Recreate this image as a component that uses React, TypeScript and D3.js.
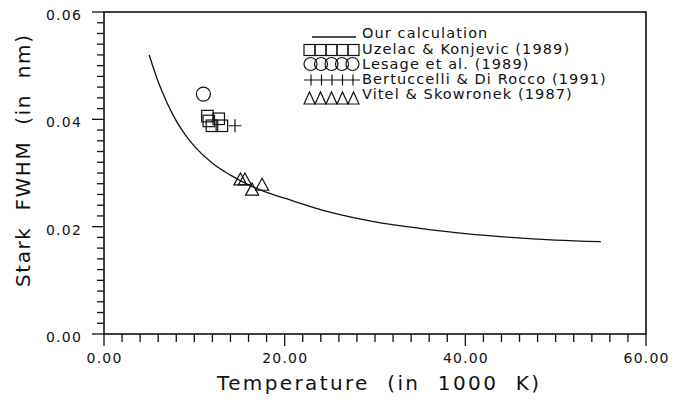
import React from "react";
import * as d3 from "d3";

const calcT = [5, 6, 7, 8, 9, 10, 12, 14, 16, 18, 20, 25, 30, 35, 40, 45, 50, 55];
const calcW = [0.052, 0.047, 0.043, 0.0397, 0.0371, 0.035, 0.0318, 0.0296, 0.0278, 0.0264, 0.0253, 0.0227, 0.0209, 0.0197, 0.0187, 0.018, 0.0175, 0.0172];

const uzelacT = [11.45, 11.6, 11.95, 12.7, 13.05];
const uzelacW = [0.0406, 0.0397, 0.0388, 0.0401, 0.0388];

const lesageT = [11.0];
const lesageW = [0.0447];

const bertuccelliT = [14.5];
const bertuccelliW = [0.0388];

const vitelT = [15.1, 15.6, 16.4, 17.5];
const vitelW = [0.0289, 0.0289, 0.027, 0.0279];

const xTicks = [0, 20, 40, 60];
const xTickLabels = ["0.00", "20.00", "40.00", "60.00"];
const yTicks = [0, 0.02, 0.04, 0.06];
const yTickLabels = ["0.00", "0.02", "0.04", "0.06"];

const legendLabels = [
  "Our calculation",
  "Uzelac & Konjevic (1989)",
  "Lesage et al. (1989)",
  "Bertuccelli & Di Rocco (1991)",
  "Vitel & Skowronek (1987)",
];

const FONT = "'DejaVu Sans', sans-serif";

export default function App() {
  const W = 685;
  const H = 400;
  const L = 104, R = 646, T = 12, B = 334;
  const x = d3.scaleLinear().domain([0, 60]).range([L, R]);
  const y = d3.scaleLinear().domain([0, 0.06]).range([B, T]);

  const line = d3
    .line<number>()
    .x((_, i) => x(calcT[i]))
    .y((d) => y(d))
    .curve(d3.curveMonotoneX);

  const xMinor = d3.range(0, 60.001, 2);
  const yMinor = d3.range(0, 0.06001, 0.002);

  const sq = 11.5;
  const stroke = "#111";

  const square = (cx: number, cy: number, s: number, k: string) => (
    <rect key={k} x={cx - s / 2} y={cy - s / 2} width={s} height={s} fill="none" stroke={stroke} strokeWidth={1.2} />
  );
  const tri = (cx: number, cy: number, w: number, h: number, k: string) => (
    <path
      key={k}
      d={`M${cx - w / 2},${cy + h / 2}L${cx},${cy - h / 2}L${cx + w / 2},${cy + h / 2}Z`}
      fill="none"
      stroke={stroke}
      strokeWidth={1.2}
    />
  );
  const plus = (cx: number, cy: number, s: number, k: string) => (
    <path key={k} d={`M${cx - s / 2},${cy}H${cx + s / 2}M${cx},${cy - s / 2}V${cy + s / 2}`} stroke={stroke} strokeWidth={1.2} fill="none" />
  );

  // legend
  const lx0 = 304, lx1 = 359;
  const rowY = [37, 50, 64, 80, 98];
  const textY = [38, 54, 69, 84, 99];
  const n = 5;
  const legend: React.ReactNode[] = [];
  legend.push(<line key="l0" x1={lx0 + 8} x2={lx1 - 3} y1={rowY[0]} y2={rowY[0]} stroke={stroke} strokeWidth={1.3} />);
  const sw = (lx1 - lx0) / n;
  for (let i = 0; i < n; i++) legend.push(square(lx0 + sw * (i + 0.5), rowY[1], sw, "ls" + i));
  for (let i = 0; i < n; i++) legend.push(<circle key={"lc" + i} cx={lx0 + 6.5 + i * 10.5} cy={rowY[2]} r={6.5} fill="none" stroke={stroke} strokeWidth={1.2} />);
  legend.push(<line key="lp" x1={lx0} x2={lx1 + 1} y1={rowY[3]} y2={rowY[3]} stroke={stroke} strokeWidth={1.2} />);
  for (let i = 0; i < n; i++) legend.push(<line key={"lp" + i} x1={lx0 + 7 + i * 10.5} x2={lx0 + 7 + i * 10.5} y1={rowY[3] - 5.5} y2={rowY[3] + 5.5} stroke={stroke} strokeWidth={1.2} />);
  for (let i = 0; i < n; i++) legend.push(tri(lx0 + sw * (i + 0.5), rowY[4], sw, 12, "lt" + i));

  return (
    <svg width={W} height={H} style={{ position: "absolute", left: 0, top: 0, background: "#fff" }}>
      <rect x={0} y={0} width={W} height={H} fill="#fff" />
      {/* frame */}
      <rect x={L} y={T} width={R - L} height={B - T} fill="none" stroke={stroke} strokeWidth={1.6} />
      {/* x ticks */}
      {xMinor.map((v, i) => {
        const major = Math.abs(v % 20) < 1e-6;
        return <line key={"xt" + i} x1={x(v)} x2={x(v)} y1={B} y2={B + (major ? 12 : 8)} stroke={stroke} strokeWidth={1.3} />;
      })}
      {yMinor.map((v, i) => {
        const major = i % 10 === 0;
        return <line key={"yt" + i} x1={L - (major ? 12 : 7)} x2={L} y1={y(v)} y2={y(v)} stroke={stroke} strokeWidth={1.3} />;
      })}
      {xTicks.map((v, i) => (
        <text key={"xl" + i} x={x(v) + 0.6} y={363} textAnchor="middle" fontFamily={FONT} fontSize={14} letterSpacing={1.2} fill={stroke}>
          {xTickLabels[i]}
        </text>
      ))}
      {yTicks.map((v, i) => (
        <text key={"yl" + i} x={82} y={y(v) + 8} textAnchor="end" fontFamily={FONT} fontSize={14} letterSpacing={1.2} fill={stroke}>
          {yTickLabels[i]}
        </text>
      ))}
      <text x={217} y={390} textLength={322} lengthAdjust="spacing" fontFamily={FONT} fontSize={20} fill={stroke} style={{ whiteSpace: "pre" }}>
        {"Temperature  (in  1000  K)"}
      </text>
      <text
        transform="translate(30,287) rotate(-90)"
        textLength={252}
        lengthAdjust="spacing"
        fontFamily={FONT}
        fontSize={20}
        fill={stroke}
        style={{ whiteSpace: "pre" }}
      >
        {"Stark  FWHM  (in  nm)"}
      </text>
      {/* curve */}
      <path d={line(calcW) || ""} fill="none" stroke={stroke} strokeWidth={1.3} />
      {/* data markers */}
      {uzelacT.map((t, i) => square(x(t), y(uzelacW[i]), sq, "u" + i))}
      {lesageT.map((t, i) => (
        <circle key={"c" + i} cx={x(t)} cy={y(lesageW[i])} r={7} fill="none" stroke={stroke} strokeWidth={1.2} />
      ))}
      {bertuccelliT.map((t, i) => plus(x(t), y(bertuccelliW[i]), 13, "b" + i))}
      {vitelT.map((t, i) => tri(x(t), y(vitelW[i]), 13, 12, "v" + i))}
      {/* legend */}
      {legend}
      {legendLabels.map((s, i) => (
        <text key={"lt" + i} x={362} y={textY[i]} fontFamily={FONT} fontSize={14.5} letterSpacing={1.1} fill={stroke} style={{ whiteSpace: "pre" }}>
          {s}
        </text>
      ))}
    </svg>
  );
}
